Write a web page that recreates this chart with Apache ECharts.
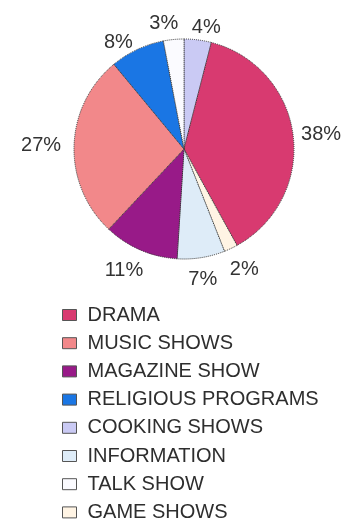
<!DOCTYPE html>
<html><head><meta charset="utf-8">
<script src="https://cdn.jsdelivr.net/npm/echarts@6/dist/echarts.min.js"></script>
<style>html,body{margin:0;padding:0;background:#fff}#c{width:358px;height:527px}</style>
</head><body><div id="c"></div>
<script>
const legendOrder = ['DRAMA','MUSIC SHOWS','MAGAZINE SHOW','RELIGIOUS PROGRAMS','COOKING SHOWS','INFORMATION','TALK SHOW','GAME SHOWS'];
const sliceOrder = ['COOKING SHOWS','DRAMA','GAME SHOWS','INFORMATION','MAGAZINE SHOW','MUSIC SHOWS','RELIGIOUS PROGRAMS','TALK SHOW'];
const sliceValues = [4, 38, 2, 7, 11, 27, 8, 3];
const colorMap = {
  'DRAMA':'#d83a70','MUSIC SHOWS':'#f2888a','MAGAZINE SHOW':'#981a88','RELIGIOUS PROGRAMS':'#1a76e4',
  'COOKING SHOWS':'#cacaf4','INFORMATION':'#deecf8','TALK SHOW':'#fbfbff','GAME SHOWS':'#fff4e4'
};
// label line lengths (style only: where each outside label sits)
const labelLen = {
  'COOKING SHOWS':[12,-12.5],'DRAMA':[6,-3],'GAME SHOWS':[23.5,-16],'INFORMATION':[22.6,-21.4],
  'MAGAZINE SHOW':[22.7,-16.9],'MUSIC SHOWS':[8,0],'RELIGIOUS PROGRAMS':[7.4,-3.8],'TALK SHOW':[15.6,-11]
};
const chart = echarts.init(document.getElementById('c'), null, {renderer:'canvas'});
chart.setOption({
  animation:false,
  legend:{
    orient:'vertical', left:62, top:305, padding:0, height:240,
    data: legendOrder,
    itemWidth:14, itemHeight:11, itemGap:8.2, itemTextGap:12,
    icon:'rect',
    itemStyle:{borderColor:'#555', borderWidth:1},
    textStyle:{fontFamily:'Liberation Sans, Arial', fontSize:20, color:'#2e2e2e', lineHeight:19, padding:[0,0,0,6]}
  },
  series:[{
    type:'pie', center:[184,149], radius:110, startAngle:90, clockwise:true,
    data: sliceOrder.map((n,i)=>({name:n, value:sliceValues[i], itemStyle:{color:colorMap[n]},
      labelLine:{show:false, length:labelLen[n][0], length2:labelLen[n][1]}})),
    itemStyle:{borderColor:'#333', borderWidth:1, borderType:'dotted'},
    label:{show:true, position:'outside', formatter:'{c}%', fontFamily:'Liberation Sans, Arial', fontSize:20, color:'#333'},
    labelLine:{show:false},
    avoidLabelOverlap:false
  }]
});
</script></body></html>
